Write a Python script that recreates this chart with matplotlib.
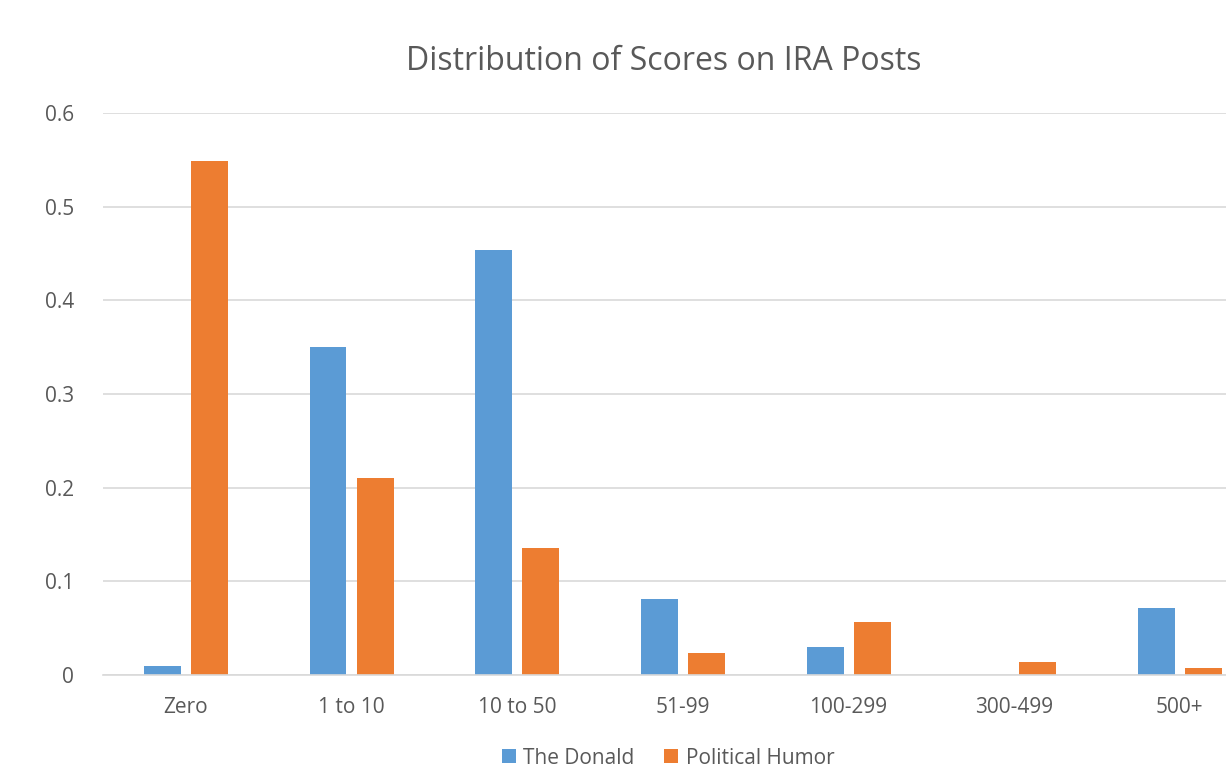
import numpy as np
import matplotlib.pyplot as plt

categories = ["Zero", "1 to 10", "10 to 50", "51-99", "100-299", "300-499", "500+"]
the_donald = [0.0096, 0.350, 0.454, 0.081, 0.030, 0.0, 0.0715]
political_humor = [0.549, 0.210, 0.136, 0.0235, 0.0566, 0.0145, 0.008]
yticks = [0, 0.1, 0.2, 0.3, 0.4, 0.5, 0.6]
ytick_labels = ["0", "0.1", "0.2", "0.3", "0.4", "0.5", "0.6"]

plt.rcParams['font.family'] = ['Open Sans', 'DejaVu Sans']

fig = plt.figure(figsize=(12.26, 7.69), dpi=100)
# plot area runs past the right edge of the picture, as in the original
ax = fig.add_axes([0.084, 0.122, 0.946, 0.731])

x = np.arange(len(categories))
w = 0.223
ax.bar(x - 0.142, the_donald, w, color="#5B9BD5", label="The Donald")
ax.bar(x + 0.142, political_humor, w, color="#ED7D31", label="Political Humor")

ax.set_xlim(-0.5, len(categories) - 0.5)
ax.set_ylim(0, 0.6)
ax.set_yticks(yticks)
ax.set_yticklabels(ytick_labels)
ax.set_xticks(x)
ax.set_xticklabels(categories)
ax.tick_params(length=0, labelsize=15, labelcolor="#595959")
ax.tick_params(axis="y", pad=21)
ax.tick_params(axis="x", pad=16)
ax.grid(axis="y", color="#D9D9D9", linewidth=1.2)
ax.set_axisbelow(True)
for s in ["top", "right", "left"]:
    ax.spines[s].set_visible(False)
ax.spines["bottom"].set_color("#D9D9D9")
ax.spines["bottom"].set_linewidth(1.2)

fig.text(0.541, 0.92, "Distribution of Scores on IRA Posts", ha="center", va="center",
         fontsize=23, color="#595959")
fig.legend(loc="center", bbox_to_anchor=(0.545, 0.014), ncol=2, frameon=False,
           fontsize=15, handlelength=0.66, handleheight=0.66, handletextpad=0.35,
           columnspacing=1.44, labelcolor="#595959", borderpad=0.2)

fig.savefig("out.png", dpi=100)
